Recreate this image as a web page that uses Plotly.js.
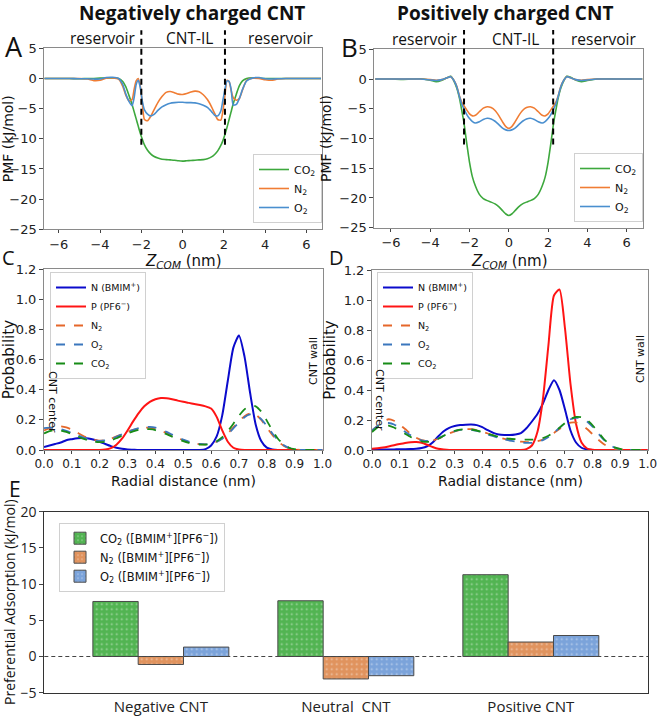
<!DOCTYPE html>
<html><head><meta charset="utf-8">
<script src="https://cdn.plot.ly/plotly-3.0.1.min.js"></script>
<style>html,body{margin:0;padding:0;background:#fff}</style>
</head><body><div id="chart" style="width:661px;height:717px"></div>
<script>
// ---------- Panel A: PMF, negatively charged CNT ----------
const zA = [-6.7,-6,-5.5,-5,-4.6,-4.3,-4,-3.7,-3.4,-3.1,-2.9,-2.75,-2.6,-2.45,-2.35,-2.25,-2.15,-2.05,-1.95,-1.85,-1.7,-1.55,-1.4,-1.2,-1.0,-0.8,-0.6,-0.4,-0.2,0,0.2,0.4,0.6,0.8,1.0,1.2,1.4,1.55,1.7,1.85,1.95,2.05,2.15,2.25,2.35,2.45,2.6,2.75,2.9,3.1,3.4,3.7,4,4.3,4.6,5,5.5,6,6.7];
const co2A = [0,0,0,-0.05,0,0,0.05,0.05,0.1,0,-0.5,-1.4,-2.8,-4.3,-5.5,-6.7,-7.9,-9.1,-10.1,-11.0,-11.9,-12.5,-12.9,-13.2,-13.4,-13.45,-13.5,-13.55,-13.65,-13.7,-13.65,-13.6,-13.55,-13.5,-13.45,-13.3,-13.0,-12.6,-12.0,-11.1,-10.3,-9.3,-8.1,-6.8,-5.5,-4.2,-2.6,-1.2,-0.4,0,0.1,0.05,0,0,0,0,0,0,0];
const n2A = [0,0,0,0,-0.1,-0.35,-0.3,0.05,0.1,-0.1,-1.3,-2.8,-3.7,-3.5,-1.8,-0.4,0,-1.3,-4.2,-6.8,-7.0,-6.3,-5.3,-4.0,-3.0,-2.3,-2.15,-2.35,-2.6,-2.65,-2.5,-2.25,-2.1,-2.2,-2.7,-3.5,-4.7,-5.8,-6.8,-6.9,-5.4,-2.8,-0.3,-0.5,-2.0,-3.2,-3.6,-3.3,-1.9,-0.3,0.05,0,-0.2,-0.3,-0.1,0,0,0,0];
const o2A = [0,0,0,-0.05,-0.05,-0.1,-0.1,0.15,0.2,0,-1.0,-2.6,-3.8,-4.5,-3.2,-1.0,-0.3,-1.5,-3.8,-5.2,-5.9,-6.2,-6.0,-5.3,-4.7,-4.35,-4.1,-4.0,-3.95,-3.95,-4.0,-4.0,-4.05,-4.2,-4.45,-4.8,-5.5,-6.1,-6.2,-5.4,-3.6,-1.8,-0.4,-0.5,-1.8,-4.4,-4.3,-3.3,-1.8,-0.4,0.1,0.15,-0.05,-0.1,-0.05,0,0,0,0];
const dividersA = [-2.0, 2.05];

// ---------- Panel B: PMF, positively charged CNT ----------
const zB = [-6.8,-6,-5.5,-5,-4.5,-4.0,-3.7,-3.4,-3.15,-2.95,-2.8,-2.65,-2.5,-2.4,-2.3,-2.2,-2.1,-2.0,-1.85,-1.7,-1.5,-1.3,-1.1,-0.9,-0.7,-0.5,-0.3,-0.15,0,0.15,0.3,0.5,0.7,0.9,1.1,1.3,1.5,1.7,1.85,2.0,2.1,2.2,2.3,2.4,2.5,2.65,2.8,2.95,3.15,3.4,3.7,4.0,4.5,5,5.5,6,6.8];
const co2B = [0,0,-0.05,0,0.05,-0.2,-0.45,-0.2,0.2,0.45,-0.3,-1.5,-3.4,-5.2,-7.0,-9.4,-11.8,-14.0,-16.5,-18.0,-19.4,-20.1,-20.45,-20.7,-21.0,-21.5,-22.2,-22.7,-22.95,-22.7,-22.2,-21.5,-21.0,-20.7,-20.45,-20.1,-19.4,-18.0,-16.5,-14.0,-11.8,-9.4,-7.0,-5.2,-3.4,-1.5,-0.3,0.45,0.3,-0.15,-0.45,-0.25,0,0.05,0,0,0];
const n2B = [0,0,0,0,0,-0.1,-0.2,-0.1,0.2,0.4,-0.2,-1.2,-3.0,-3.9,-4.4,-4.9,-5.4,-5.85,-6.2,-6.1,-5.5,-4.9,-4.65,-4.8,-5.3,-6.2,-7.3,-8.0,-8.3,-8.0,-7.3,-6.2,-5.3,-4.8,-4.65,-4.9,-5.5,-6.1,-6.2,-5.85,-5.4,-4.9,-4.4,-3.9,-3.0,-1.2,-0.2,0.4,0.2,-0.1,-0.2,-0.1,0,0,0,0,0];
const o2B = [0,0,0,0,0,-0.15,-0.25,-0.1,0.2,0.4,-0.2,-1.3,-3.1,-4.2,-4.9,-5.6,-6.2,-6.65,-7.15,-7.4,-7.2,-6.8,-6.6,-6.7,-7.1,-7.7,-8.3,-8.55,-8.65,-8.55,-8.3,-7.7,-7.1,-6.7,-6.6,-6.8,-7.2,-7.4,-7.15,-6.65,-6.2,-5.6,-4.9,-4.2,-3.1,-1.3,-0.2,0.4,0.2,-0.1,-0.25,-0.15,0,0,0,0,0];
const dividersB = [-2.28, 2.26];

// ---------- Panels C & D: radial distributions ----------
const rGrid = [0,0.02,0.04,0.06,0.08,0.1,0.12,0.14,0.16,0.18,0.2,0.22,0.24,0.26,0.28,0.3,0.32,0.34,0.36,0.38,0.4,0.42,0.44,0.46,0.48,0.5,0.52,0.54,0.56,0.58,0.6,0.62,0.64,0.66,0.68,0.7,0.72,0.74,0.76,0.78,0.8,0.82,0.84,0.86,0.88,0.9,0.92,0.94,0.96,0.98,1.0];
const cN   = [0.02,0.03,0.04,0.05,0.065,0.072,0.078,0.08,0.077,0.068,0.055,0.04,0.026,0.015,0.008,0.004,0.002,0,0,0,0,0,0,0,0,0,0,0,0,0.006,0.03,0.09,0.23,0.46,0.68,0.76,0.62,0.38,0.17,0.06,0.016,0.004,0,0,0,0,0,0,0,0,0];
const cP   = [0,0,0,0,0,0,0,0,0,0,0,0.003,0.012,0.035,0.075,0.13,0.19,0.245,0.29,0.32,0.337,0.345,0.344,0.337,0.328,0.32,0.313,0.306,0.299,0.29,0.275,0.22,0.13,0.055,0.015,0.003,0,0,0,0,0,0,0,0,0,0,0,0,0,0,0];
const cN2  = [0.13,0.145,0.155,0.157,0.15,0.135,0.115,0.095,0.078,0.067,0.062,0.065,0.075,0.09,0.105,0.12,0.133,0.143,0.148,0.147,0.14,0.128,0.113,0.097,0.08,0.065,0.053,0.044,0.039,0.038,0.043,0.055,0.078,0.11,0.15,0.19,0.225,0.243,0.235,0.2,0.15,0.1,0.058,0.028,0.011,0.004,0.001,0,0,0,0];
const cO2  = [0.145,0.148,0.145,0.138,0.127,0.113,0.098,0.084,0.072,0.064,0.061,0.064,0.074,0.088,0.104,0.12,0.134,0.145,0.152,0.153,0.148,0.136,0.12,0.102,0.085,0.069,0.056,0.046,0.04,0.038,0.042,0.054,0.075,0.105,0.143,0.183,0.218,0.236,0.232,0.205,0.16,0.11,0.066,0.033,0.014,0.005,0.001,0,0,0,0];
const cCO2 = [0.11,0.125,0.133,0.13,0.12,0.105,0.09,0.075,0.063,0.055,0.052,0.055,0.064,0.078,0.095,0.11,0.124,0.134,0.139,0.138,0.132,0.12,0.105,0.089,0.073,0.059,0.048,0.04,0.036,0.036,0.042,0.058,0.085,0.125,0.175,0.228,0.27,0.295,0.29,0.255,0.195,0.13,0.075,0.037,0.015,0.006,0.002,0,0,0,0];
const dN   = [0.003,0.003,0.003,0.004,0.004,0.005,0.005,0.006,0.008,0.013,0.025,0.05,0.09,0.125,0.148,0.16,0.166,0.169,0.17,0.166,0.152,0.132,0.114,0.103,0.1,0.1,0.104,0.113,0.145,0.19,0.24,0.31,0.40,0.465,0.40,0.27,0.13,0.05,0.015,0.004,0,0,0,0,0,0,0,0,0,0,0];
const dP   = [0.008,0.012,0.017,0.024,0.032,0.04,0.047,0.052,0.053,0.048,0.035,0.02,0.008,0.003,0,0,0,0,0,0,0,0,0,0,0,0,0,0,0.006,0.03,0.12,0.34,0.70,1.03,1.07,0.81,0.44,0.175,0.05,0.01,0.002,0,0,0,0,0,0,0,0,0,0];
const dN2  = [0.13,0.16,0.19,0.205,0.195,0.17,0.14,0.108,0.082,0.066,0.06,0.063,0.075,0.092,0.11,0.124,0.134,0.139,0.139,0.133,0.123,0.11,0.097,0.085,0.074,0.066,0.06,0.056,0.053,0.053,0.058,0.07,0.09,0.114,0.14,0.165,0.182,0.183,0.168,0.14,0.105,0.07,0.04,0.02,0.008,0.003,0.001,0,0,0,0];
const dO2  = [0.13,0.16,0.178,0.18,0.17,0.148,0.122,0.098,0.078,0.065,0.06,0.064,0.077,0.095,0.112,0.126,0.134,0.137,0.135,0.128,0.117,0.104,0.092,0.08,0.07,0.062,0.056,0.051,0.048,0.048,0.053,0.066,0.087,0.115,0.148,0.18,0.205,0.215,0.21,0.19,0.155,0.112,0.07,0.037,0.016,0.006,0.002,0,0,0,0];
const dCO2 = [0.12,0.15,0.165,0.163,0.15,0.13,0.108,0.087,0.07,0.058,0.054,0.06,0.075,0.095,0.113,0.127,0.136,0.139,0.137,0.13,0.12,0.108,0.097,0.088,0.08,0.075,0.072,0.07,0.069,0.069,0.072,0.08,0.095,0.118,0.148,0.18,0.207,0.22,0.218,0.2,0.165,0.12,0.075,0.04,0.018,0.007,0.002,0,0,0,0];

// ---------- Panel E: preferential adsorption ----------
const categoriesE = ['Negative CNT', 'Neutral  CNT', 'Positive CNT'];
const co2E = [7.6, 7.7, 11.3];
const n2E  = [-1.1, -3.1, 2.0];
const o2E  = [1.3, -2.65, 2.9];

// ---------- layout helpers ----------
const W = 661, H = 717;
const fx = p => p / W, fy = p => 1 - p / H;
const TICKF = {family: 'DejaVu Sans', size: 13, color: '#222'};
const pmfCol = {co2: '#3da83d', n2: '#f07d34', o2: '#4a8fcf'};
const rdCol = {N: '#0b0bcc', P: '#ff1414', n2: '#e5672a', o2: '#3b77bd', co2: '#178c17'};
const barCol = {co2: '#52b452', n2: '#e0935e', o2: '#7ba3da'};

function line(x, y, name, color, ax, leg, dash, width) {
  return {type: 'scatter', mode: 'lines', x: x, y: y, name: name,
    xaxis: 'x' + ax, yaxis: 'y' + ax, legend: leg,
    line: {color: color, width: width || 1.6, dash: dash || 'solid', shape: 'spline', smoothing: 0.6},
    hoverinfo: 'skip'};
}
const data = [
  line(zA, co2A, 'CO<sub>2</sub>', pmfCol.co2, '', 'legend'),
  line(zA, n2A, 'N<sub>2</sub>', pmfCol.n2, '', 'legend'),
  line(zA, o2A, 'O<sub>2</sub>', pmfCol.o2, '', 'legend'),
  line(zB, co2B, 'CO<sub>2</sub>', pmfCol.co2, '2', 'legend2'),
  line(zB, n2B, 'N<sub>2</sub>', pmfCol.n2, '2', 'legend2'),
  line(zB, o2B, 'O<sub>2</sub>', pmfCol.o2, '2', 'legend2'),
  line(rGrid, cN, 'N (BMIM<sup>+</sup>)', rdCol.N, '3', 'legend3', 'solid', 2),
  line(rGrid, cP, 'P (PF6<sup>−</sup>)', rdCol.P, '3', 'legend3', 'solid', 2),
  line(rGrid, cN2, 'N<sub>2</sub>', rdCol.n2, '3', 'legend3', 'dash', 1.8),
  line(rGrid, cO2, 'O<sub>2</sub>', rdCol.o2, '3', 'legend3', 'dash', 1.8),
  line(rGrid, cCO2, 'CO<sub>2</sub>', rdCol.co2, '3', 'legend3', 'dash', 1.8),
  line(rGrid, dN, 'N (BMIM<sup>+</sup>)', rdCol.N, '4', 'legend4', 'solid', 2),
  line(rGrid, dP, 'P (PF6<sup>−</sup>)', rdCol.P, '4', 'legend4', 'solid', 2),
  line(rGrid, dN2, 'N<sub>2</sub>', rdCol.n2, '4', 'legend4', 'dash', 1.8),
  line(rGrid, dO2, 'O<sub>2</sub>', rdCol.o2, '4', 'legend4', 'dash', 1.8),
  line(rGrid, dCO2, 'CO<sub>2</sub>', rdCol.co2, '4', 'legend4', 'dash', 1.8)
];
function bar(y, name, color) {
  return {type: 'bar', x: categoriesE, y: y, name: name, xaxis: 'x5', yaxis: 'y5', legend: 'legend5',
    marker: {color: color, line: {color: '#4a4a4a', width: 1},
      pattern: {shape: '.', bgcolor: color, fgcolor: 'rgba(255,255,255,0.45)', size: 5, solidity: 0.12}},
    hoverinfo: 'skip'};
}
const ilSuffix = ' ([BMIM<sup>+</sup>][PF6<sup>−</sup>])';
data.push(bar(co2E, 'CO<sub>2</sub>' + ilSuffix, barCol.co2));
data.push(bar(n2E, 'N<sub>2</sub>' + ilSuffix, barCol.n2));
data.push(bar(o2E, 'O<sub>2</sub>' + ilSuffix, barCol.o2));

function ax(extra) {
  return Object.assign({showline: true, mirror: true, linecolor: '#8a8a8a', linewidth: 1,
    ticks: 'outside', ticklen: 4, tickcolor: '#444', showgrid: false, zeroline: false,
    tickfont: TICKF, automargin: false}, extra);
}
const rangeA = [-6.7, 6.75], rangeB = [-6.85, 6.85];
const layout = {
  width: W, height: H, margin: {l: 0, r: 0, t: 0, b: 0},
  paper_bgcolor: '#fff', plot_bgcolor: '#fff', showlegend: true,
  barmode: 'group', bargap: 0.265, bargroupgap: 0,
  font: {family: 'DejaVu Sans', color: '#111'},
  xaxis: ax({domain: [fx(44.3), fx(322)], anchor: 'y', range: rangeA, tickvals: [-6,-4,-2,0,2,4,6], ticklen: 3}),
  yaxis: ax({domain: [fy(229.3), fy(48.3)], anchor: 'x', range: [-25, 5], dtick: 5,
    title: {text: 'PMF (kJ/mol)', font: {size: 14}, standoff: 6}}),
  xaxis2: ax({domain: [fx(374.3), fx(643.3)], anchor: 'y2', range: rangeB, tickvals: [-6,-4,-2,0,2,4,6], ticklen: 3}),
  yaxis2: ax({domain: [fy(227.7), fy(49.3)], anchor: 'x2', range: [-25, 5], dtick: 5,
    title: {text: 'PMF (kJ/mol)', font: {size: 14}, standoff: 4}}),
  xaxis3: ax({domain: [fx(44), fx(322.5)], anchor: 'y3', range: [0, 1], dtick: 0.1, tickformat: '.1f', ticklen: 3,
    tickfont: {family: 'DejaVu Sans', size: 12, color: '#222'}}),
  yaxis3: ax({domain: [fy(450), fy(269.3)], anchor: 'x3', range: [0, 1.2], dtick: 0.2, tickformat: '.1f',
    title: {text: 'Probability', font: {size: 15}, standoff: 6}}),
  xaxis4: ax({domain: [fx(372), fx(647.7)], anchor: 'y4', range: [0, 1], dtick: 0.1, tickformat: '.1f', ticklen: 3,
    tickfont: {family: 'DejaVu Sans', size: 12, color: '#222'}}),
  yaxis4: ax({domain: [fy(450), fy(270)], anchor: 'x4', range: [0, 1.2], dtick: 0.2, tickformat: '.1f',
    title: {text: 'Probability', font: {size: 15}, standoff: 4}}),
  xaxis5: ax({domain: [fx(44.3), fx(648.3)], anchor: 'y5', type: 'category', range: [-0.63, 2.635],
    linecolor: '#333', ticks: '', tickfont: {family: 'Open Sans', size: 15, color: '#222'}}),
  yaxis5: ax({domain: [fy(692.7), fy(511.7)], anchor: 'x5', range: [-5, 20], dtick: 5, linecolor: '#333',
    tickfont: {family: 'Open Sans', size: 14, color: '#222'},
    title: {text: 'Preferential Adsorption (kJ/mol)', font: {family: 'Open Sans', size: 14}, standoff: 6}}),
  legend: {x: fx(322), xanchor: 'right', y: fy(223), yanchor: 'bottom', bgcolor: 'rgba(255,255,255,0.9)',
    bordercolor: '#d0d0d0', borderwidth: 1, font: {family: 'DejaVu Sans', size: 11}, tracegroupgap: 0, itemwidth: 30},
  legend2: {x: fx(643), xanchor: 'right', y: fy(222), yanchor: 'bottom', bgcolor: 'rgba(255,255,255,0.9)',
    bordercolor: '#d0d0d0', borderwidth: 1, font: {family: 'DejaVu Sans', size: 11}, tracegroupgap: 0, itemwidth: 30},
  legend3: {x: fx(50), xanchor: 'left', y: fy(272), yanchor: 'top', bgcolor: 'rgba(255,255,255,0.9)',
    bordercolor: '#d0d0d0', borderwidth: 1, font: {family: 'DejaVu Sans', size: 9.5}, tracegroupgap: 0, itemwidth: 30},
  legend4: {x: fx(377), xanchor: 'left', y: fy(272), yanchor: 'top', bgcolor: 'rgba(255,255,255,0.9)',
    bordercolor: '#d0d0d0', borderwidth: 1, font: {family: 'DejaVu Sans', size: 9.5}, tracegroupgap: 0, itemwidth: 30},
  legend5: {x: fx(59), xanchor: 'left', y: fy(522.7), yanchor: 'top', bgcolor: 'rgba(255,255,255,0.9)',
    bordercolor: '#d0d0d0', borderwidth: 1, font: {family: 'DejaVu Sans', size: 11.5}, tracegroupgap: 0, itemwidth: 30},
  shapes: [], annotations: []
};

// dashed CNT boundaries (A, B) spanning into header area
function divider(v, rng, axn, yTop) {
  return {type: 'line', xref: 'x' + axn + ' domain', yref: 'y' + axn + ' domain',
    x0: (v - rng[0]) / (rng[1] - rng[0]), x1: (v - rng[0]) / (rng[1] - rng[0]),
    y0: (-11 + 25) / 30, y1: yTop, line: {color: '#000', width: 2, dash: '6px,4px'}};
}
dividersA.forEach(v => layout.shapes.push(divider(v, rangeA, '', 1.10)));
dividersB.forEach(v => layout.shapes.push(divider(v, rangeB, '2', 1.108)));
layout.shapes.push({type: 'line', xref: 'x5 domain', yref: 'y5', x0: 0, x1: 1, y0: 0, y1: 0,
  layer: 'above', line: {color: '#444', width: 1.2, dash: '4px,3px'}});

function note(text, px, py, size, opts) {
  layout.annotations.push(Object.assign({text: text, x: fx(px), y: fy(py), xref: 'paper', yref: 'paper',
    showarrow: false, xanchor: 'center', yanchor: 'middle',
    font: {family: 'Open Sans', size: size, color: '#111'}}, opts || {}));
}
note('<b>Negatively charged CNT</b>', 191.5, 13, 19);
note('<b>Positively charged CNT</b>', 504.5, 13, 19);
note('reservoir', 102.5, 38, 15.5);
note('CNT-IL', 189, 38, 15.5);
note('reservoir', 280, 38, 15.5);
note('reservoir', 424.5, 39, 15.5);
note('CNT-IL', 515, 39, 15.5);
note('reservoir', 603.5, 39, 15.5);
note('A', 14, 46, 27);
note('B', 350, 47, 26);
note('C', 8, 257, 20);
note('D', 336, 257, 20);
note('E', 15, 489, 21);
// axis titles placed as text under the tick labels
const tf = {family: 'DejaVu Sans', size: 15, color: '#111'};
note('<i>Z</i><sub><i>COM</i></sub> (nm)', 183, 262, 15, {font: tf});
note('<i>Z</i><sub><i>COM</i></sub> (nm)', 509, 262, 15, {font: tf});
const tf2 = {family: 'DejaVu Sans', size: 14, color: '#111'};
note('Radial distance (nm)', 183, 481, 14, {font: tf2});
note('Radial distance (nm)', 510, 481, 14, {font: tf2});
const vf = {family: 'DejaVu Sans', size: 11, color: '#111'};
note('CNT center', 53, 402, 11, {textangle: 90, font: vf});
note('CNT wall', 313, 361, 11, {textangle: -90, font: vf});
note('CNT center', 380, 400, 11, {textangle: 90, font: vf});
note('CNT wall', 640, 359, 11, {textangle: -90, font: vf});

Plotly.newPlot('chart', data, layout, {staticPlot: true, displayModeBar: false});
</script></body></html>
